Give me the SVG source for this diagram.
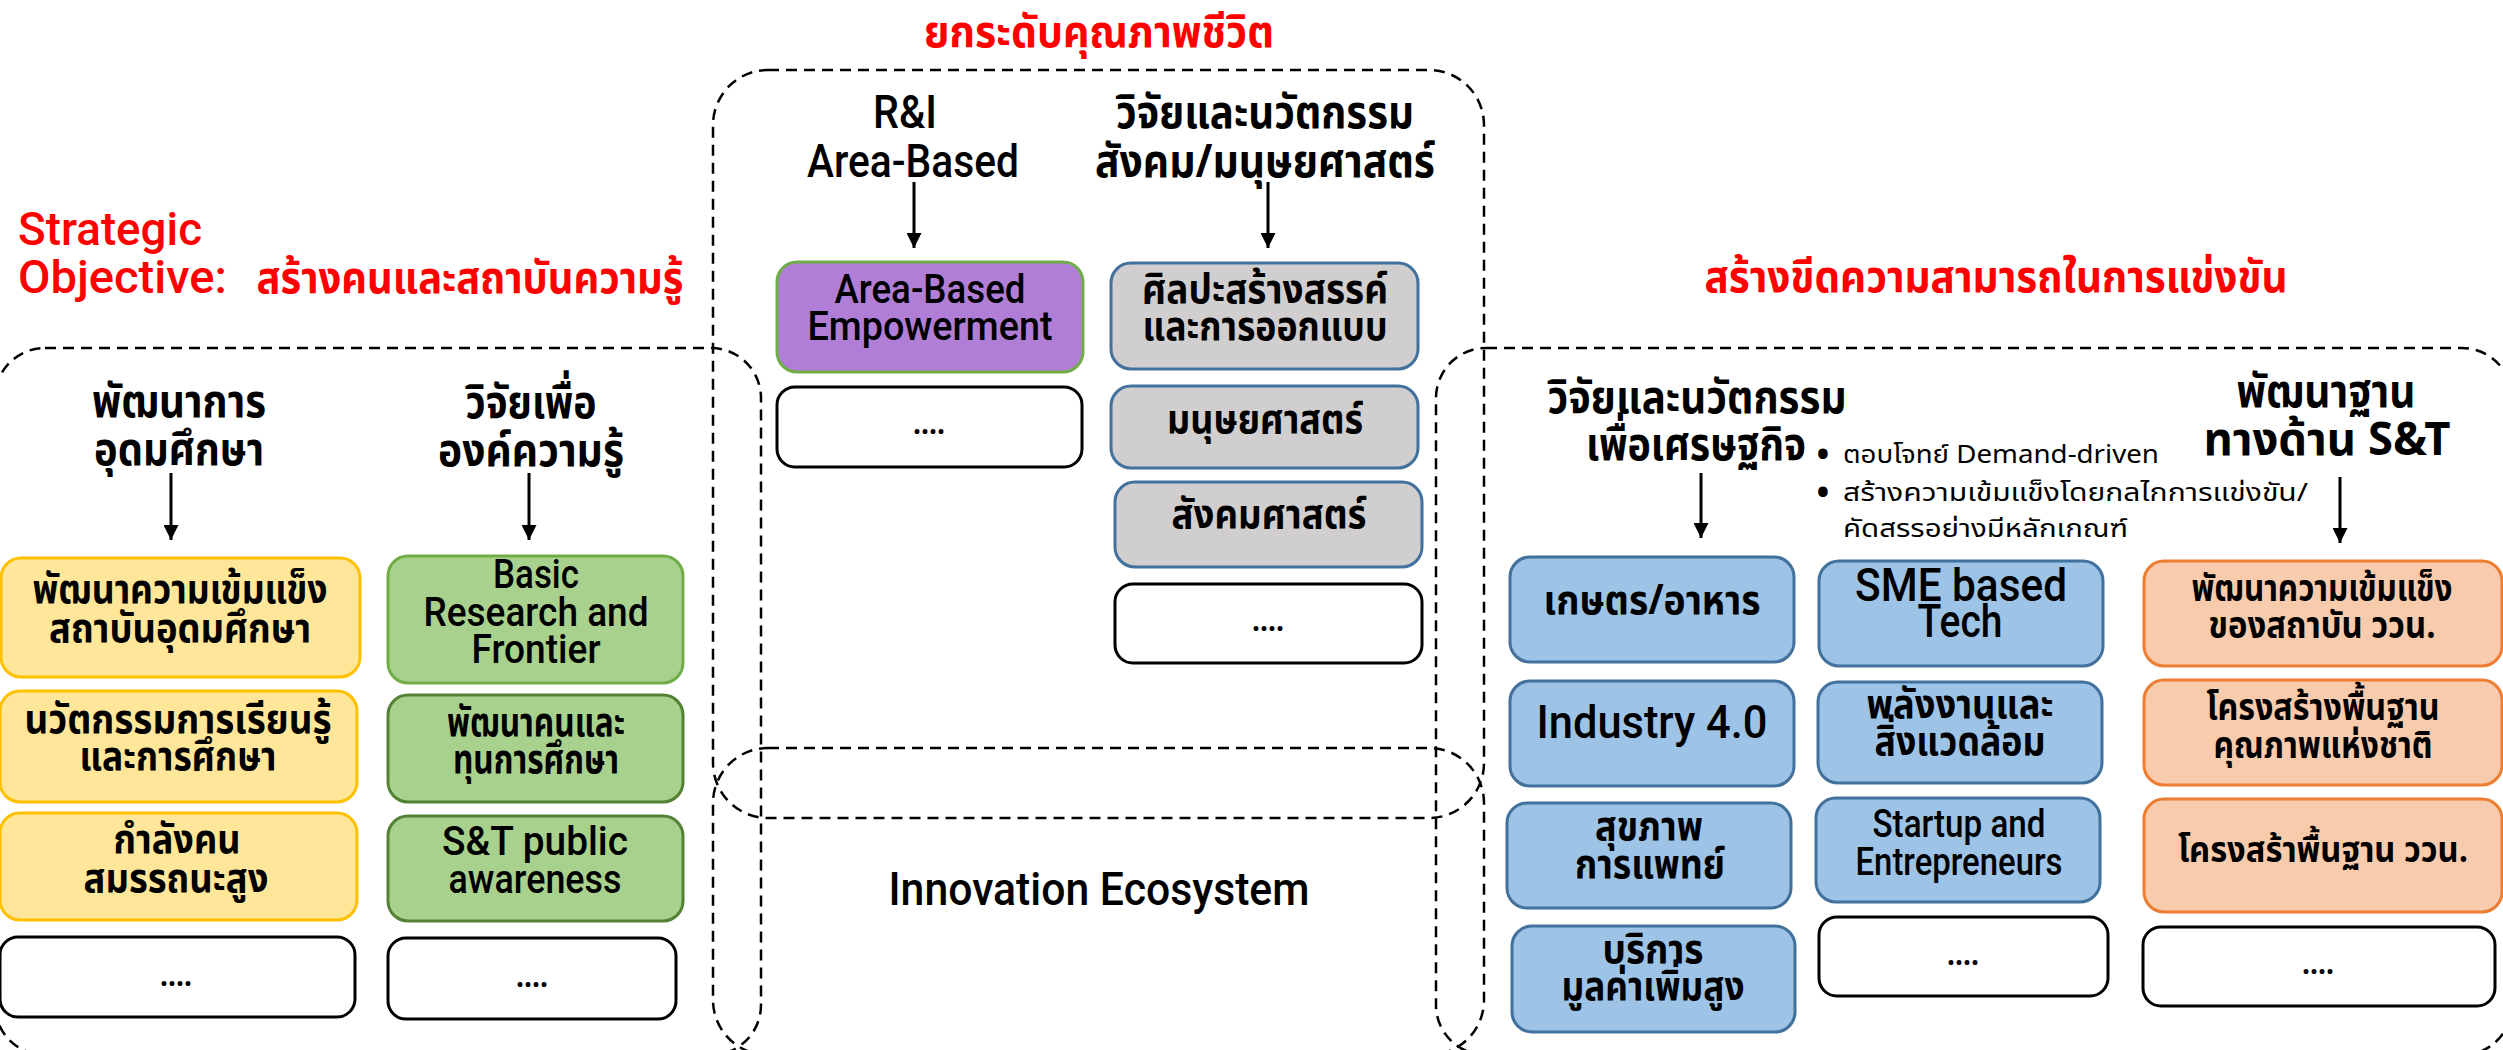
<svg xmlns="http://www.w3.org/2000/svg" width="2503" height="1050" viewBox="0 0 2503 1050">
<defs>
<style>
.dash{fill:none;stroke:#000;stroke-width:2.5;stroke-dasharray:11 7}
.bx{stroke-width:3}
.yel{fill:#FFE699;stroke:#FFC000}
.grn{fill:#A9D18E;stroke:#70AD47}
.grn2{fill:#A9D18E;stroke:#548235}
.pur{fill:#B07ED6;stroke:#70AD47}
.gry{fill:#D0CECE;stroke:#41719C}
.blu{fill:#9DC3E6;stroke:#41719C}
.org{fill:#F8CBAD;stroke:#ED7D31}
.wht{fill:#fff;stroke:#000}
text{font-family:"Noto Sans Thai","Noto Sans","DejaVu Sans",sans-serif;text-anchor:middle;fill:#000}
.en{font-family:Roboto,"Liberation Sans",sans-serif;font-weight:500}
.red{fill:#FF0000}
.rt{font-size:44px;font-weight:bold}
.h{font-size:46px;font-weight:bold}
.th{font-size:41px;font-weight:bold}
.to{font-size:37px;font-weight:bold}
.e46{font-size:46px}
.e40{font-size:40px}
.e38{font-size:38px}
.sm{font-size:25px;text-anchor:start}
.bul{font-size:34px;font-weight:bold}
.dots{font-size:30px;font-weight:bold}
.conn{stroke:#000;stroke-width:3;fill:none}
</style>
<marker id="ah" viewBox="0 0 10 10" refX="10" refY="5" markerWidth="5" markerHeight="5" orient="auto"><path d="M0,0 L10,5 L0,10 z" fill="#000"/></marker>
</defs>
<rect x="0" y="0" width="2503" height="1050" fill="#fff"/>

<g id="containers">
<rect id="container-left" class="dash" x="-5" y="348" width="766" height="707" rx="50"/>
<rect id="container-center" class="dash" x="713" y="70" width="771" height="748" rx="55"/>
<rect id="container-innovation" class="dash" x="713" y="748" width="771" height="307" rx="55"/>
<rect id="container-right" class="dash" x="1436" y="348" width="1076" height="707" rx="50"/>
</g>

<g id="titles">
<text class="en e46 red" style="text-anchor:start"><tspan x="18" y="245" textLength="184" lengthAdjust="spacingAndGlyphs">Strategic</tspan><tspan x="18" y="293" textLength="209" lengthAdjust="spacingAndGlyphs">Objective:</tspan></text>
<text class="red rt" x="470" y="293" textLength="427" lengthAdjust="spacingAndGlyphs">สร้างคนและสถาบันความรู้</text>
<text class="red rt" x="1099" y="47" textLength="350" lengthAdjust="spacingAndGlyphs">ยกระดับคุณภาพชีวิต</text>
<text class="red rt" x="1996" y="292" textLength="583" lengthAdjust="spacingAndGlyphs">สร้างขีดความสามารถในการแข่งขัน</text>
<text class="en" style="font-size:47px" x="1099" y="905" textLength="421" lengthAdjust="spacingAndGlyphs">Innovation Ecosystem</text>
</g>

<g id="headers">
<g id="h-higher-ed"><text class="h"><tspan x="179" y="417" textLength="174" lengthAdjust="spacingAndGlyphs">พัฒนาการ</tspan><tspan x="179" y="465" textLength="170" lengthAdjust="spacingAndGlyphs">อุดมศึกษา</tspan></text></g>
<g id="h-knowledge"><text class="h"><tspan x="531" y="418" textLength="131" lengthAdjust="spacingAndGlyphs">วิจัยเพื่อ</tspan><tspan x="531" y="466" textLength="186" lengthAdjust="spacingAndGlyphs">องค์ความรู้</tspan></text></g>
<g id="h-ri-area"><text class="en e46"><tspan x="905" y="128" textLength="64" lengthAdjust="spacingAndGlyphs">R&amp;I</tspan><tspan x="913" y="177" textLength="212" lengthAdjust="spacingAndGlyphs">Area-Based</tspan></text></g>
<g id="h-social"><text class="h"><tspan x="1265" y="128" textLength="298" lengthAdjust="spacingAndGlyphs">วิจัยและนวัตกรรม</tspan><tspan x="1265" y="177" textLength="340" lengthAdjust="spacingAndGlyphs">สังคม/มนุษยศาสตร์</tspan></text></g>
<g id="h-economy"><text class="h"><tspan x="1697" y="413" textLength="299" lengthAdjust="spacingAndGlyphs">วิจัยและนวัตกรรม</tspan><tspan x="1696" y="460" textLength="220" lengthAdjust="spacingAndGlyphs">เพื่อเศรษฐกิจ</tspan></text></g>
<g id="h-st-base"><text class="h"><tspan x="2326" y="407" textLength="179" lengthAdjust="spacingAndGlyphs">พัฒนาฐาน</tspan><tspan x="2327" y="455" textLength="247" lengthAdjust="spacingAndGlyphs">ทางด้าน S&amp;T</tspan></text></g>
<g id="bullets">
<text class="bul"><tspan x="1823" y="466">•</tspan><tspan x="1823" y="504">•</tspan></text>
<text class="sm"><tspan x="1843" y="463" textLength="316" lengthAdjust="spacingAndGlyphs">ตอบโจทย์ Demand-driven</tspan><tspan x="1843" y="501" textLength="465" lengthAdjust="spacingAndGlyphs">สร้างความเข้มแข็งโดยกลไกการแข่งขัน/</tspan><tspan x="1843" y="537" textLength="285" lengthAdjust="spacingAndGlyphs">คัดสรรอย่างมีหลักเกณฑ์</tspan></text>
</g>
</g>

<g id="connectors">
<line class="conn" x1="171" y1="473" x2="171" y2="540" marker-end="url(#ah)"/>
<line class="conn" x1="529" y1="473" x2="529" y2="540" marker-end="url(#ah)"/>
<line class="conn" x1="914" y1="182" x2="914" y2="248" marker-end="url(#ah)"/>
<line class="conn" x1="1268" y1="182" x2="1268" y2="248" marker-end="url(#ah)"/>
<line class="conn" x1="1701" y1="473" x2="1701" y2="538" marker-end="url(#ah)"/>
<line class="conn" x1="2340" y1="477" x2="2340" y2="543" marker-end="url(#ah)"/>
</g>

<g id="nodes">
<g id="y1"><rect class="bx yel" x="1" y="558" width="359" height="119" rx="20"/><text class="th"><tspan x="180" y="603" textLength="295" lengthAdjust="spacingAndGlyphs">พัฒนาความเข้มแข็ง</tspan><tspan x="180" y="642" textLength="262" lengthAdjust="spacingAndGlyphs">สถาบันอุดมศึกษา</tspan></text></g>
<g id="y2"><rect class="bx yel" x="0" y="691" width="357" height="111" rx="20"/><text class="th"><tspan x="178" y="733" textLength="307" lengthAdjust="spacingAndGlyphs">นวัตกรรมการเรียนรู้</tspan><tspan x="178" y="770" textLength="197" lengthAdjust="spacingAndGlyphs">และการศึกษา</tspan></text></g>
<g id="y3"><rect class="bx yel" x="0" y="813" width="357" height="107" rx="20"/><text class="th"><tspan x="177" y="853" textLength="127" lengthAdjust="spacingAndGlyphs">กำลังคน</tspan><tspan x="176" y="892" textLength="185" lengthAdjust="spacingAndGlyphs">สมรรถนะสูง</tspan></text></g>
<g id="y4"><rect class="bx wht" x="0" y="937" width="355" height="80" rx="18"/><text class="dots" x="176" y="986" textLength="32" lengthAdjust="spacingAndGlyphs">....</text></g>

<g id="g1"><rect class="bx grn" x="388" y="556" width="295" height="127" rx="20"/><text class="en e40"><tspan x="536" y="588" textLength="86" lengthAdjust="spacingAndGlyphs">Basic</tspan><tspan x="536" y="626" textLength="225" lengthAdjust="spacingAndGlyphs">Research and</tspan><tspan x="536" y="663" textLength="129" lengthAdjust="spacingAndGlyphs">Frontier</tspan></text></g>
<g id="g2"><rect class="bx grn2" x="388" y="695" width="295" height="107" rx="20"/><text class="th"><tspan x="536" y="736" textLength="178" lengthAdjust="spacingAndGlyphs">พัฒนาคนและ</tspan><tspan x="536" y="773" textLength="166" lengthAdjust="spacingAndGlyphs">ทุนการศึกษา</tspan></text></g>
<g id="g3"><rect class="bx grn2" x="388" y="816" width="295" height="105" rx="20"/><text class="en e40"><tspan x="535" y="855" textLength="186" lengthAdjust="spacingAndGlyphs">S&amp;T public</tspan><tspan x="535" y="893" textLength="173" lengthAdjust="spacingAndGlyphs">awareness</tspan></text></g>
<g id="g4"><rect class="bx wht" x="388" y="938" width="288" height="81" rx="18"/><text class="dots" x="532" y="987" textLength="32" lengthAdjust="spacingAndGlyphs">....</text></g>

<g id="p1"><rect class="bx pur" x="777" y="262" width="306" height="110" rx="20"/><text class="en e40"><tspan x="930" y="303" textLength="191" lengthAdjust="spacingAndGlyphs">Area-Based</tspan><tspan x="930" y="340" textLength="245" lengthAdjust="spacingAndGlyphs">Empowerment</tspan></text></g>
<g id="p2"><rect class="bx wht" x="777" y="387" width="305" height="80" rx="18"/><text class="dots" x="929" y="434" textLength="32" lengthAdjust="spacingAndGlyphs">....</text></g>

<g id="s1"><rect class="bx gry" x="1111" y="263" width="307" height="106" rx="20"/><text class="th"><tspan x="1265" y="303" textLength="246" lengthAdjust="spacingAndGlyphs">ศิลปะสร้างสรรค์</tspan><tspan x="1265" y="340" textLength="245" lengthAdjust="spacingAndGlyphs">และการออกแบบ</tspan></text></g>
<g id="s2"><rect class="bx gry" x="1111" y="386" width="307" height="82" rx="20"/><text class="th" x="1265" y="433" textLength="196" lengthAdjust="spacingAndGlyphs">มนุษยศาสตร์</text></g>
<g id="s3"><rect class="bx gry" x="1115" y="482" width="307" height="85" rx="20"/><text class="th" x="1269" y="528" textLength="195" lengthAdjust="spacingAndGlyphs">สังคมศาสตร์</text></g>
<g id="s4"><rect class="bx wht" x="1115" y="584" width="307" height="79" rx="18"/><text class="dots" x="1268" y="631" textLength="32" lengthAdjust="spacingAndGlyphs">....</text></g>

<g id="b1"><rect class="bx blu" x="1510" y="557" width="284" height="105" rx="20"/><text class="th" x="1652" y="614" textLength="217" lengthAdjust="spacingAndGlyphs">เกษตร/อาหาร</text></g>
<g id="b2"><rect class="bx blu" x="1510" y="681" width="284" height="105" rx="20"/><text class="en" style="font-size:47px" x="1652" y="738" textLength="231" lengthAdjust="spacingAndGlyphs">Industry 4.0</text></g>
<g id="b3"><rect class="bx blu" x="1507" y="803" width="284" height="105" rx="20"/><text class="th"><tspan x="1649" y="840" textLength="108" lengthAdjust="spacingAndGlyphs">สุขภาพ</tspan><tspan x="1650" y="878" textLength="150" lengthAdjust="spacingAndGlyphs">การแพทย์</tspan></text></g>
<g id="b4"><rect class="bx blu" x="1512" y="926" width="283" height="106" rx="20"/><text class="th"><tspan x="1653" y="963" textLength="101" lengthAdjust="spacingAndGlyphs">บริการ</tspan><tspan x="1653" y="1000" textLength="183" lengthAdjust="spacingAndGlyphs">มูลค่าเพิ่มสูง</tspan></text></g>

<g id="c1"><rect class="bx blu" x="1819" y="561" width="284" height="105" rx="20"/><text class="en e46"><tspan x="1961" y="601" textLength="212" lengthAdjust="spacingAndGlyphs">SME based</tspan><tspan x="1960" y="637" textLength="85" lengthAdjust="spacingAndGlyphs">Tech</tspan></text></g>
<g id="c2"><rect class="bx blu" x="1818" y="682" width="284" height="101" rx="20"/><text class="th"><tspan x="1960" y="718" textLength="187" lengthAdjust="spacingAndGlyphs">พลังงานและ</tspan><tspan x="1960" y="755" textLength="171" lengthAdjust="spacingAndGlyphs">สิ่งแวดล้อม</tspan></text></g>
<g id="c3"><rect class="bx blu" x="1816" y="798" width="284" height="104" rx="20"/><text class="en e38"><tspan x="1959" y="837" textLength="173" lengthAdjust="spacingAndGlyphs">Startup and</tspan><tspan x="1959" y="875" textLength="207" lengthAdjust="spacingAndGlyphs">Entrepreneurs</tspan></text></g>
<g id="c4"><rect class="bx wht" x="1819" y="917" width="289" height="79" rx="18"/><text class="dots" x="1963" y="965" textLength="32" lengthAdjust="spacingAndGlyphs">....</text></g>

<g id="o1"><rect class="bx org" x="2144" y="561" width="358" height="105" rx="20"/><text class="to"><tspan x="2322" y="601" textLength="261" lengthAdjust="spacingAndGlyphs">พัฒนาความเข้มแข็ง</tspan><tspan x="2322" y="638" textLength="227" lengthAdjust="spacingAndGlyphs">ของสถาบัน ววน.</tspan></text></g>
<g id="o2"><rect class="bx org" x="2144" y="680" width="358" height="105" rx="20"/><text class="to"><tspan x="2323" y="720" textLength="233" lengthAdjust="spacingAndGlyphs">โครงสร้างพื้นฐาน</tspan><tspan x="2323" y="758" textLength="219" lengthAdjust="spacingAndGlyphs">คุณภาพแห่งชาติ</tspan></text></g>
<g id="o3"><rect class="bx org" x="2144" y="799" width="358" height="113" rx="20"/><text class="to" style="font-size:35px" x="2323" y="862" textLength="290" lengthAdjust="spacingAndGlyphs">โครงสร้าพื้นฐาน ววน.</text></g>
<g id="o4"><rect class="bx wht" x="2143" y="927" width="352" height="79" rx="18"/><text class="dots" x="2318" y="974" textLength="32" lengthAdjust="spacingAndGlyphs">....</text></g>
</g>
</svg>
